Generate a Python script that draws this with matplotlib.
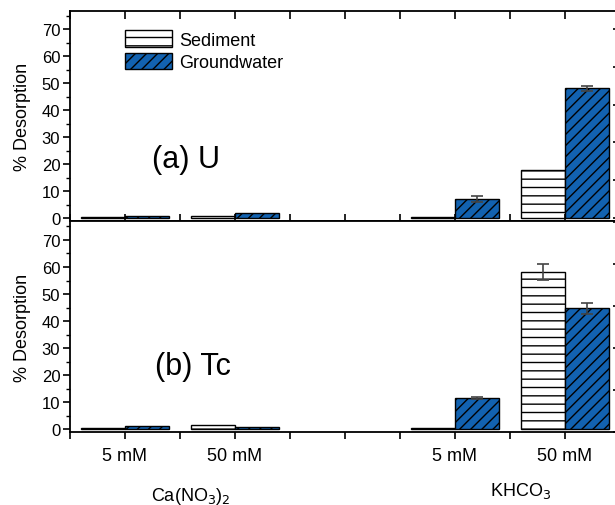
import matplotlib
matplotlib.use("Agg")
import matplotlib.pyplot as plt
from matplotlib.ticker import MultipleLocator, NullFormatter
import numpy as np

plt.rcParams['font.family'] = ['Liberation Sans', 'DejaVu Sans']
plt.rcParams['hatch.linewidth'] = 1.0

# ---- data ----
categories = ["5 mM", "50 mM", "5 mM", "50 mM"]
cat_pos = [1, 3, 7, 9]
salts = ["Ca(NO$_3$)$_2$", "KHCO$_3$"]
series = ["Sediment", "Groundwater"]

u_sediment = [0.3, 0.8, 0.4, 17.8]
u_groundwater = [0.7, 1.8, 6.9, 48.0]
u_sed_err = [0, 0, 0, 0]
u_gw_err = [0, 0, 1.1, 0.8]

tc_sediment = [0.3, 1.7, 0.5, 58.1]
tc_groundwater = [1.1, 0.9, 11.7, 44.7]
tc_sed_err = [0, 0, 0, 3.0]
tc_gw_err = [0, 0, 0.4, 2.1]

panel_labels = ["(a) U", "(b) Tc"]

blue = "#1262b0"
FW, FH = 615, 506
fig = plt.figure(figsize=(FW / 100, FH / 100), dpi=100)

left = 70 / FW
right = 620 / FW
ax1 = fig.add_axes([left, 1 - 222 / FH, right - left, (222 - 12) / FH])
ax2 = fig.add_axes([left, 1 - 433 / FH, right - left, (433 - 222) / FH])

def draw(ax, sed, gw, sed_err, gw_err):
    pos = np.array(cat_pos, dtype=float)
    ax.bar(pos - 0.4, sed, width=0.8, color="white", edgecolor="black",
           hatch="--", linewidth=1.0, label=series[0], zorder=2)
    ax.bar(pos + 0.4, gw, width=0.8, color=blue, edgecolor="black",
           hatch="///", linewidth=1.0, label=series[1], zorder=2)
    se = np.array(sed_err); ge = np.array(gw_err)
    m = se > 0
    ax.errorbar((pos - 0.4)[m], np.array(sed)[m], yerr=se[m], fmt="none",
                ecolor="#444444", elinewidth=1.2, capsize=4, capthick=1.2, zorder=3)
    m = ge > 0
    ax.errorbar((pos + 0.4)[m], np.array(gw)[m], yerr=ge[m], fmt="none",
                ecolor="#444444", elinewidth=1.2, capsize=4, capthick=1.2, zorder=3)
    ax.set_xlim(0, 10)
    ax.yaxis.set_major_locator(MultipleLocator(10))
    ax.yaxis.set_minor_locator(MultipleLocator(5))
    ax.xaxis.set_major_locator(MultipleLocator(1))
    for s in ax.spines.values():
        s.set_linewidth(1.3)
    ax.tick_params(axis="y", which="major", direction="out", length=5, width=1.2,
                   labelsize=12, pad=2)
    ax.tick_params(axis="y", which="minor", direction="out", length=3, width=1.0)
    ax.set_ylabel("% Desorption", fontsize=13, labelpad=8)

draw(ax1, u_sediment, u_groundwater, u_sed_err, u_gw_err)
draw(ax2, tc_sediment, tc_groundwater, tc_sed_err, tc_gw_err)

ax1.set_ylim(-1.1, 76.7)
ax2.set_ylim(-1.0, 77.0)

ax1.tick_params(axis="x", which="major", top=True, bottom=False, direction="in",
                length=6, width=1.2, labelbottom=False)
ax2.tick_params(axis="x", which="major", top=True, bottom=True, direction="out",
                length=5, width=1.2)
ax2.xaxis.set_major_formatter(NullFormatter())
xt = ax2.get_xaxis_transform()
for p, c in zip(cat_pos, categories):
    ax2.text(p, -0.11, c, transform=xt, ha="center", va="center", fontsize=13)
ax2.text(2.2, -0.30, salts[0], transform=xt, ha="center", va="center", fontsize=13)
ax2.text(8.2, -0.275, salts[1], transform=xt, ha="center", va="center", fontsize=13)

# right-side ticks of the (off-canvas) right axis
for ax, lim in [(ax1, (-1.1 / 14, 76.7 / 14)), (ax2, (0, 78 / 15.5))]:
    tw = ax.twinx()
    tw.set_ylim(*lim)
    tw.yaxis.set_major_locator(MultipleLocator(1))
    tw.tick_params(axis="y", direction="in", length=5, width=1.2, labelright=False)
    for s in tw.spines.values():
        s.set_visible(False)

fig.text(186 / FW, 1 - 160 / FH, panel_labels[0], fontsize=22, ha="center", va="center")
fig.text(193 / FW, 1 - 367 / FH, panel_labels[1], fontsize=22, ha="center", va="center")

ax1.legend(loc="upper left", bbox_to_anchor=(0.07, 0.985), frameon=False, fontsize=13,
           handlelength=2.6, handleheight=1.0, handletextpad=0.4, labelspacing=0.25)

fig.savefig("out.png", dpi=100)
